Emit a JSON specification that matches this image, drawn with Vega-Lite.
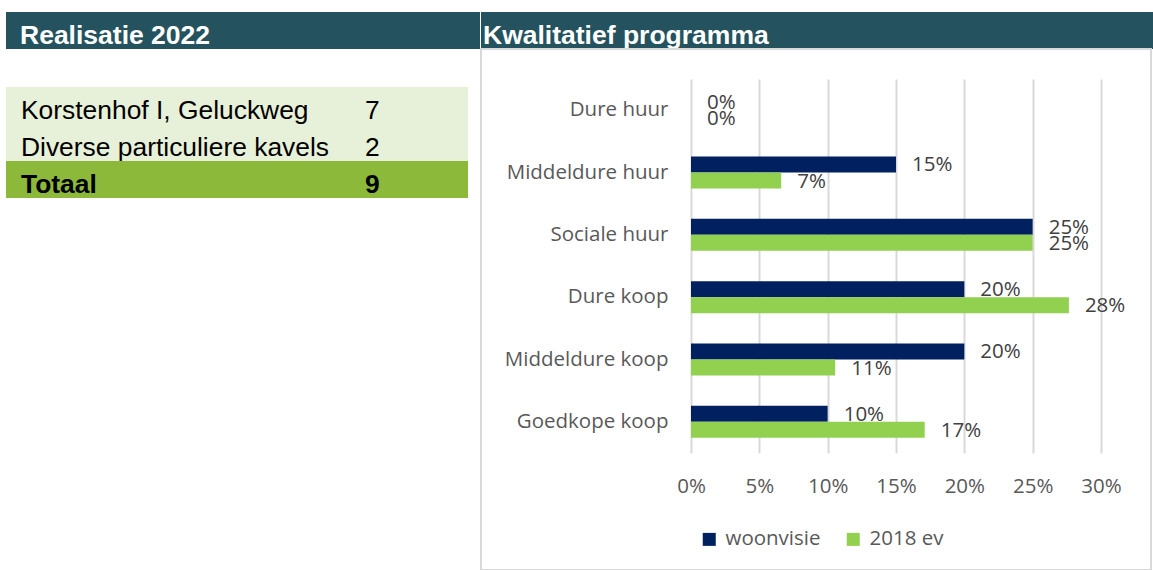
{
  "$schema": "https://vega.github.io/schema/vega-lite/v6.json",
  "padding": {"left": 6, "top": 12, "right": 0, "bottom": 0},
  "background": "white",
  "spacing": 0,
  "resolve": {"scale": {"x": "independent", "y": "independent", "color": "independent", "yOffset": "independent"}, "axis": {"x": "independent", "y": "independent"}, "legend": {"color": "independent"}},
  "config": {"view": {"stroke": null}},
  "datasets": {
    "tabel": [
      {"rij": "Korstenhof I, Geluckweg", "aantal": 7, "soort": "project"},
      {"rij": "Diverse particuliere kavels", "aantal": 2, "soort": "project"},
      {"rij": "Totaal", "aantal": 9, "soort": "totaal"}
    ],
    "programma": [
      {"categorie": "Dure huur", "reeks": "woonvisie", "aandeel": 0},
      {"categorie": "Dure huur", "reeks": "2018 ev", "aandeel": 0},
      {"categorie": "Middeldure huur", "reeks": "woonvisie", "aandeel": 0.15},
      {"categorie": "Middeldure huur", "reeks": "2018 ev", "aandeel": 0.066},
      {"categorie": "Sociale huur", "reeks": "woonvisie", "aandeel": 0.25},
      {"categorie": "Sociale huur", "reeks": "2018 ev", "aandeel": 0.25},
      {"categorie": "Dure koop", "reeks": "woonvisie", "aandeel": 0.2},
      {"categorie": "Dure koop", "reeks": "2018 ev", "aandeel": 0.2765},
      {"categorie": "Middeldure koop", "reeks": "woonvisie", "aandeel": 0.2},
      {"categorie": "Middeldure koop", "reeks": "2018 ev", "aandeel": 0.1055},
      {"categorie": "Goedkope koop", "reeks": "woonvisie", "aandeel": 0.1},
      {"categorie": "Goedkope koop", "reeks": "2018 ev", "aandeel": 0.171}
    ]
  },
  "hconcat": [
    {
      "spacing": 38,
      "bounds": "flush",
      "resolve": {"scale": {"x": "independent", "y": "independent", "color": "independent"}},
      "vconcat": [
        {
          "width": 474,
          "height": 37,
          "view": {"fill": "#24535F", "stroke": null},
          "data": {"values": [{"kop": "Realisatie 2022"}]},
          "mark": {"type": "text", "align": "left", "baseline": "alphabetic", "dx": 14, "dy": 13.5, "font": "Liberation Sans", "fontWeight": "bold", "fontSize": 26.5, "color": "#FFFFFF"},
          "encoding": {
            "x": {"field": "kop", "type": "nominal", "bandPosition": 0, "axis": null, "scale": {"type": "band", "paddingInner": 0, "paddingOuter": 0}},
            "text": {"field": "kop"}
          }
        },
        {
          "width": 462,
          "height": 111,
          "data": {"name": "tabel"},
          "encoding": {
            "y": {"field": "rij", "type": "nominal", "sort": null, "axis": null, "scale": {"paddingInner": 0, "paddingOuter": 0}}
          },
          "layer": [
            {
              "mark": {"type": "rect"},
              "encoding": {
                "color": {"field": "soort", "type": "nominal", "legend": null, "scale": {"domain": ["project", "totaal"], "range": ["#E7F1D9", "#8DB93A"]}}
              }
            },
            {
              "transform": [
                {"filter": "datum.soort === 'project'"},
                {"fold": ["rij", "aantal"], "as": ["kolom", "waarde"]}
              ],
              "mark": {"type": "text", "align": "left", "baseline": "alphabetic", "dy": 13.5, "font": "Liberation Sans", "fontSize": 26.4, "color": "#000000"},
              "encoding": {
                "x": {"field": "kolom", "type": "nominal", "sort": ["rij", "aantal"], "axis": null, "scale": {"type": "point", "range": [15, 359], "padding": 0}},
                "text": {"field": "waarde"}
              }
            },
            {
              "transform": [
                {"filter": "datum.soort === 'totaal'"},
                {"fold": ["rij", "aantal"], "as": ["kolom", "waarde"]}
              ],
              "mark": {"type": "text", "align": "left", "baseline": "alphabetic", "dy": 13.5, "font": "Liberation Sans", "fontWeight": "bold", "fontSize": 26.4, "color": "#000000"},
              "encoding": {
                "x": {"field": "kolom", "type": "nominal", "sort": ["rij", "aantal"], "axis": null, "scale": {"type": "point", "range": [15, 359], "padding": 0}},
                "text": {"field": "waarde"}
              }
            }
          ]
        }
      ]
    },
    {
      "spacing": 0,
      "bounds": "flush",
      "resolve": {"scale": {"x": "independent", "y": "independent", "color": "independent"}},
      "vconcat": [
        {
          "width": 673,
          "height": 37,
          "view": {"fill": "#24535F", "stroke": null},
          "data": {"values": [{"kop": "Kwalitatief programma"}]},
          "mark": {"type": "text", "align": "left", "baseline": "alphabetic", "dx": 2, "dy": 13.5, "font": "Liberation Sans", "fontWeight": "bold", "fontSize": 26.5, "color": "#FFFFFF"},
          "encoding": {
            "x": {"field": "kop", "type": "nominal", "bandPosition": 0, "axis": null, "scale": {"type": "band", "paddingInner": 0, "paddingOuter": 0}},
            "text": {"field": "kop"}
          }
        },
        {
          "width": 670,
          "height": 521,
          "view": {"stroke": "#D9D9D9", "strokeWidth": 2},
          "data": {"name": "programma"},
          "encoding": {
            "y": {
              "field": "categorie", "type": "nominal", "sort": null, "title": null,
              "scale": {"range": [30, 404], "paddingInner": 0.4866, "paddingOuter": 0.2433},
              "axis": {"offset": -210, "domain": false, "ticks": false, "grid": false, "labelPadding": 23, "labelFont": "Open Sans", "labelFontSize": 20.5, "labelColor": "#595959"}
            },
            "x": {
              "field": "aandeel", "type": "quantitative", "title": null,
              "scale": {"domain": [0, 0.3], "range": [210, 620], "nice": false},
              "axis": {"orient": "top", "offset": -404, "format": ".0%", "values": [0, 0.05, 0.1, 0.15, 0.2, 0.25, 0.3], "domain": false, "ticks": false, "grid": true, "gridColor": "#D9D9D9", "gridWidth": 2, "labelFlush": false, "labelBaseline": "middle", "labelPadding": -33, "labelFont": "Open Sans", "labelFontSize": 20.5, "labelColor": "#595959"}
            },
            "yOffset": {"field": "reeks", "type": "nominal", "sort": ["woonvisie", "2018 ev"], "scale": {"paddingInner": 0, "paddingOuter": 0}}
          },
          "layer": [
            {
              "mark": {"type": "bar"},
              "encoding": {
                "color": {
                  "field": "reeks", "type": "nominal", "sort": ["woonvisie", "2018 ev"],
                  "scale": {"domain": ["woonvisie", "2018 ev"], "range": ["#002060", "#92D050"]},
                  "legend": {"title": null, "orient": "none", "legendX": 218, "legendY": 480, "direction": "horizontal", "symbolType": "square", "symbolSize": 169, "symbolStrokeWidth": 0, "labelFont": "Open Sans", "labelFontSize": 20.5, "labelColor": "#595959", "labelOffset": 6, "columnPadding": 22}
                }
              }
            },
            {
              "mark": {"type": "text", "align": "left", "baseline": "middle", "dx": 16, "dy": 1, "font": "Open Sans", "fontSize": 20.5, "color": "#404040"},
              "encoding": {
                "text": {"field": "aandeel", "type": "quantitative", "format": ".0%"}
              }
            }
          ]
        }
      ]
    }
  ]
}
